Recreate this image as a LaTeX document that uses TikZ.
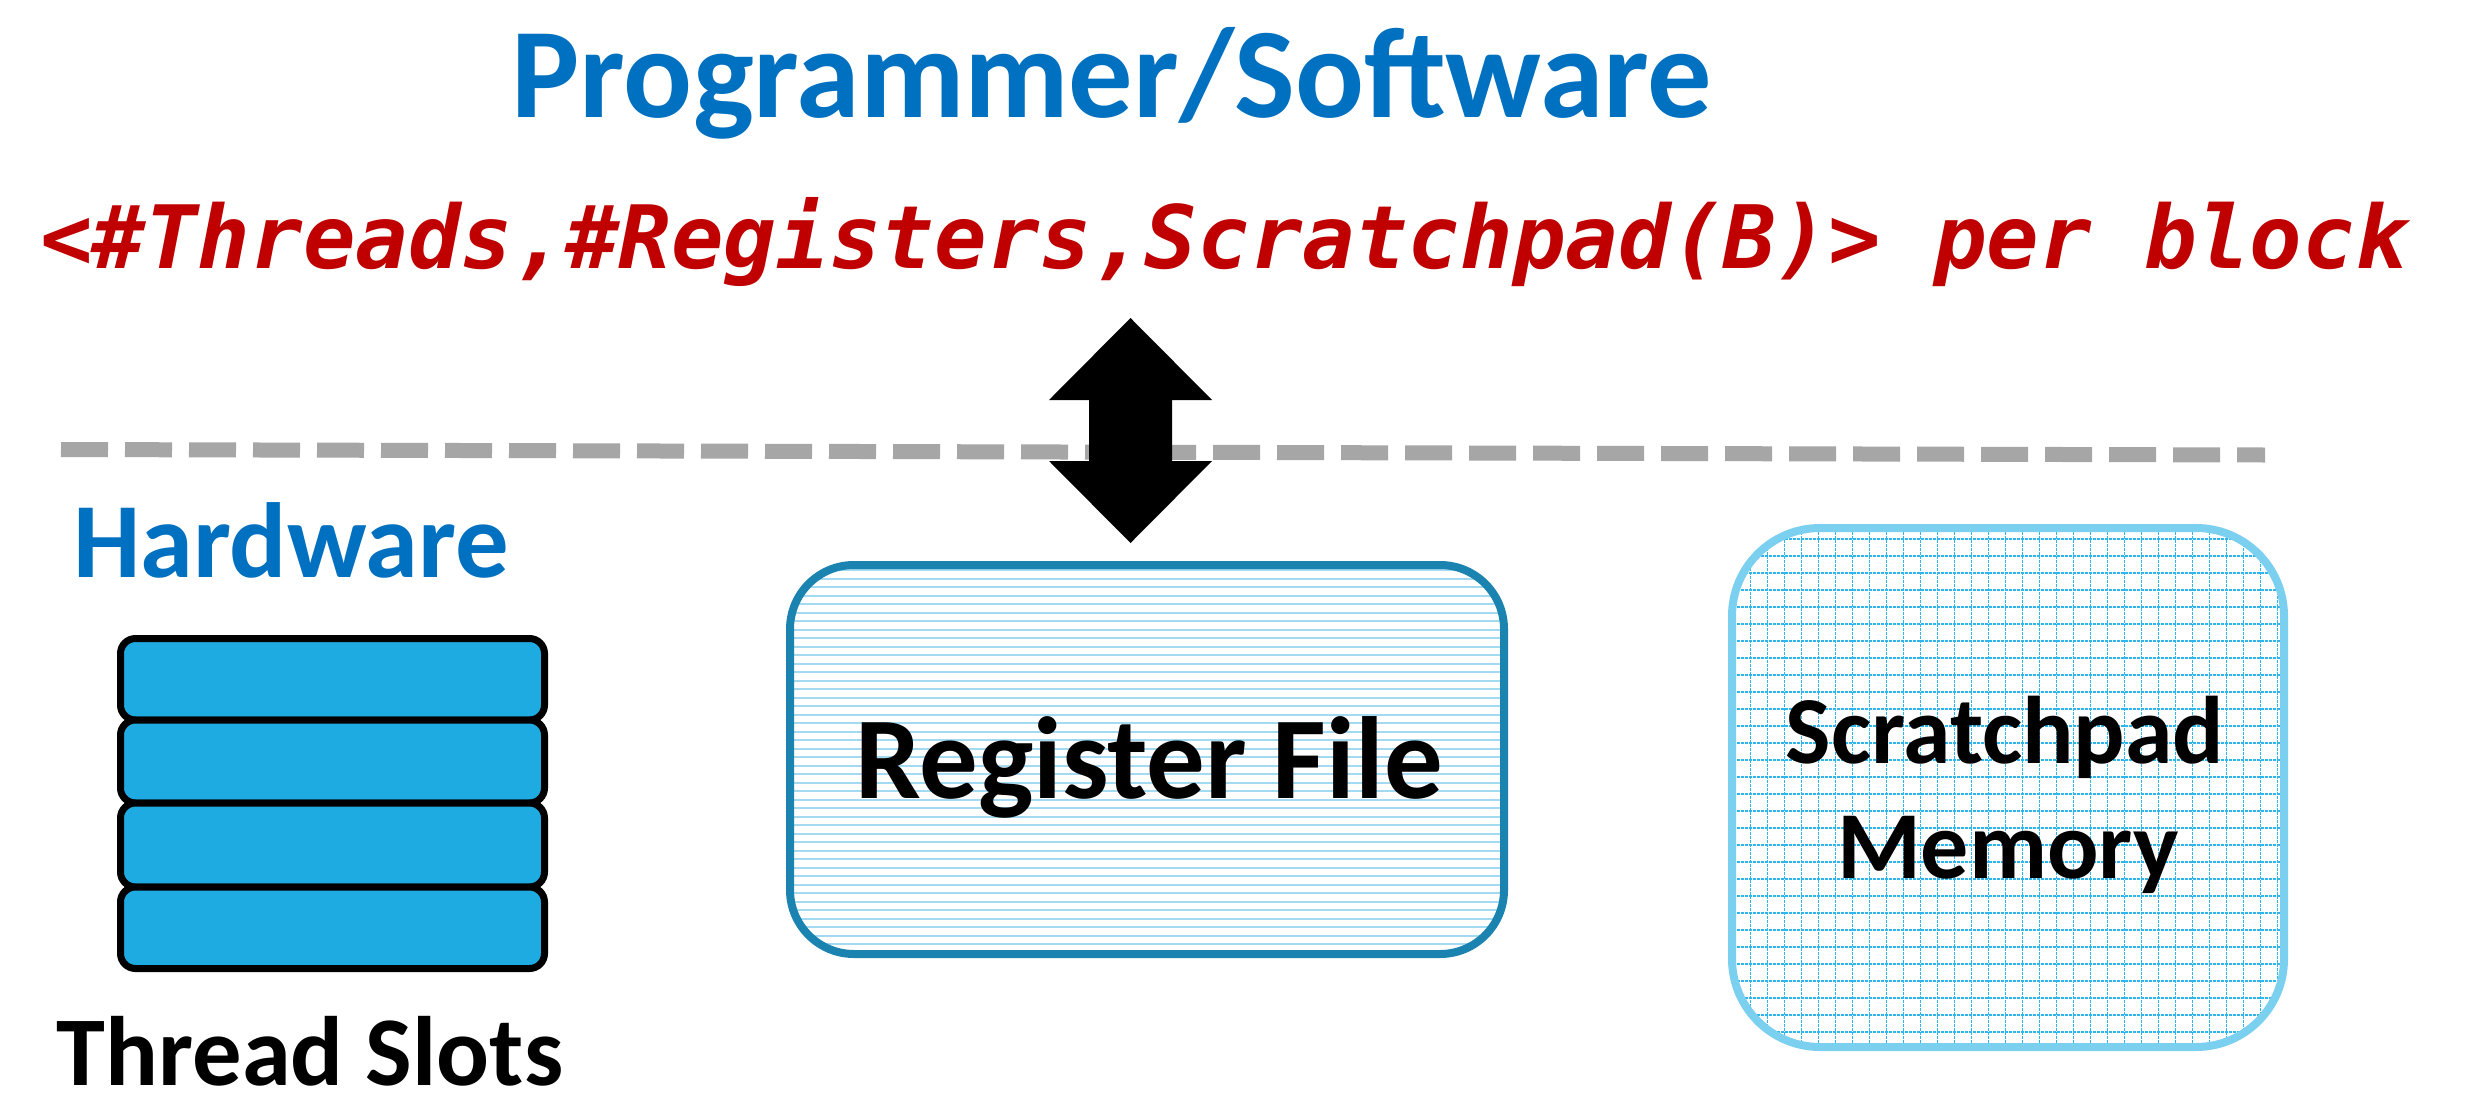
\documentclass[tikz,border=0pt]{standalone}
\usepackage{fontspec}
\newfontfamily\calib{Carlito}
\newfontfamily\cmono{DejaVu Sans Mono}
\definecolor{swblue}{HTML}{0070C0}
\definecolor{codered}{HTML}{C00000}
\definecolor{slotfill}{HTML}{1EABE2}
\definecolor{rfborder}{HTML}{1B83AF}
\definecolor{rfline}{HTML}{A3DAF2}
\definecolor{spborder}{HTML}{7BD0F0}
\definecolor{spgrid}{HTML}{2DB6EC}
\definecolor{dashgray}{HTML}{A6A6A6}
\begin{document}
\begin{tikzpicture}[x=0.5pt,y=-0.5pt,
  txt/.style={inner sep=0pt,outer sep=0pt},
  titletxt/.style={txt,text=swblue,font=\calib\bfseries\fontsize{64.2pt}{70pt}\selectfont},
  hwtxt/.style={txt,text=swblue,font=\calib\bfseries\fontsize{53.4pt}{60pt}\selectfont},
  codetxt/.style={txt,text=codered,font=\cmono\bfseries\itshape\fontsize{43.7pt}{50pt}\selectfont},
  rftxt/.style={txt,text=black,font=\calib\bfseries\fontsize{58.4pt}{64pt}\selectfont},
  sptxt/.style={txt,text=black,font=\calib\bfseries\fontsize{48pt}{56pt}\selectfont},
  tstxt/.style={txt,text=black,font=\calib\bfseries\fontsize{49.3pt}{58pt}\selectfont},
  slotbox/.style={draw=black,fill=slotfill,line width=3.5pt,rounded corners=7.5pt},
  divider/.style={draw=dashgray,line width=7.5pt,dash pattern=on 23.5pt off 8.5pt},
  rfline/.style={draw=rfline,line width=1pt},
  spline/.style={draw=spgrid,line width=0.75pt,dash pattern=on 1.25pt off 0.75pt},
  bigarrow/.style={fill=black,draw=none}
]
\useasboundingbox (0,0) rectangle (2471,1097);
\fill[white] (0,0) rectangle (2471,1097);

% texts at top
\node[titletxt,anchor=base] (sw) at (1112,118) {Programmer/Software};
\node[codetxt,anchor=base west] (cfg) at (40,268) {<\#Threads,\#Registers,Scratchpad(B)> per block};

% dashed divider
\coordinate (dl) at (61,449.5);
\coordinate (dr) at (2265,455);
\draw[divider] (dl) -- (dr);

% hardware label
\node[hwtxt,anchor=base west] (hw) at (73,577) {Hardware};

% thread slots
\draw[slotbox] (120.5,638.5) rectangle (544.5,720);
\draw[slotbox] (120.5,720) rectangle (544.5,803);
\draw[slotbox] (120.5,803) rectangle (544.5,887);
\draw[slotbox] (120.5,887) rectangle (544.5,968.5);
\node[tstxt,anchor=base] (ts) at (310,1085) {Thread Slots};

% register file
\begin{scope}
  \clip[rounded corners=32pt] (790,565) rectangle (1504,954);
  \foreach \k in {0,...,46} {\draw[rfline] (780,{570+8.5*\k}) -- (1520,{570+8.5*\k});}
\end{scope}
\draw[draw=rfborder,line width=4pt,rounded corners=32pt] (790,565) rectangle (1504,954);
\node[rftxt,anchor=base] (rf) at (1149,798) {Register File};

% scratchpad
\begin{scope}
  \clip[rounded corners=44pt] (1732,528) rectangle (2284,1047);
  \foreach \k in {0,...,32} {\draw[spline] ({1733.7+17*\k},520) -- ({1733.7+17*\k},1055);}
  \foreach \k in {0,...,31} {\draw[spline] (1725,{522+17*\k}) -- (2290,{522+17*\k});}
\end{scope}
\draw[draw=spborder,line width=4pt,rounded corners=44pt] (1732,528) rectangle (2284,1047);
\node[sptxt,anchor=base] (sp1) at (2005,763) {Scratchpad};
\node[sptxt,anchor=base] (sp2) at (2008,878) {Memory};

% double block arrow
\coordinate (at) at (1130.5,318);
\coordinate (ab) at (1130.5,543);
\fill[bigarrow] (at) -- (1212,400) -- (1172,400) -- (1172,461) -- (1212,461)
  -- (ab) -- (1049,461) -- (1089,461) -- (1089,400) -- (1049,400) -- cycle;
\end{tikzpicture}
\end{document}
